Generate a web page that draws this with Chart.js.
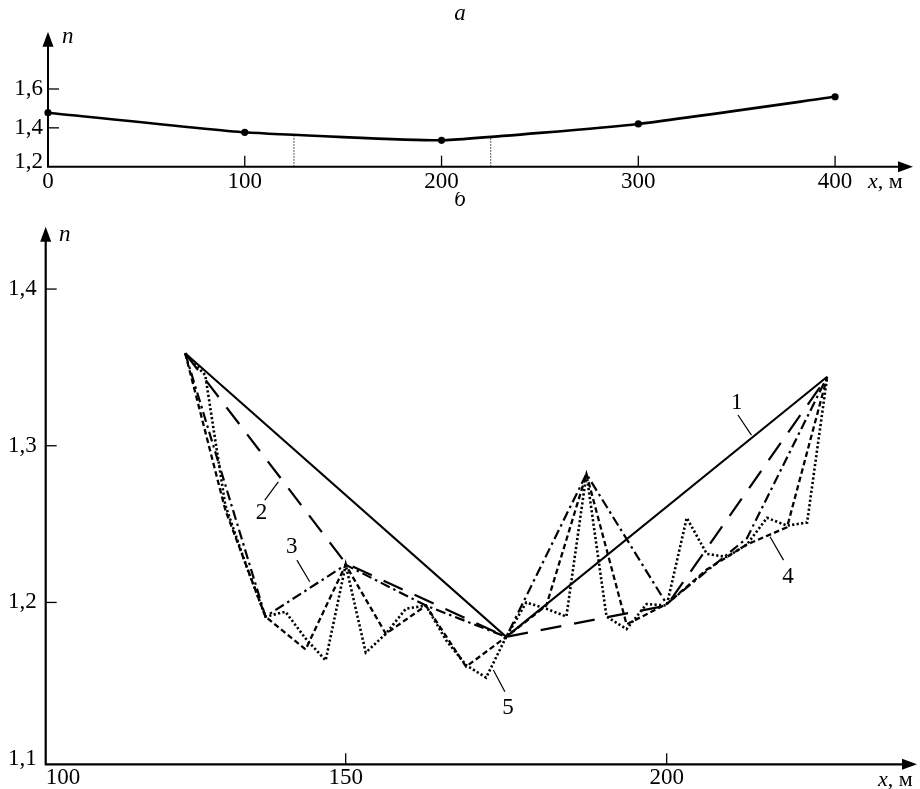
<!DOCTYPE html>
<html>
<head>
<meta charset="utf-8">
<script src="https://cdn.jsdelivr.net/npm/chart.js@4.4.1/dist/chart.umd.min.js"></script>
<style>
  html, body { margin: 0; padding: 0; background: #fff; }
  #wrap { position: relative; width: 920px; height: 789px; }
  #boxA { position: absolute; left: 0; top: 0; width: 920px; height: 192px; }
  #boxB { position: absolute; left: 0; top: 192px; width: 920px; height: 597px; }
</style>
</head>
<body>
<div id="wrap">
  <div id="boxA"><canvas id="chartA"></canvas></div>
  <div id="boxB"><canvas id="chartB"></canvas></div>
</div>
<script>
// ---- panel а: n along the whole profile ----
const xA = [0, 100, 200, 300, 400];
const nA = [1.478, 1.377, 1.336, 1.420, 1.560];
// dotted verticals marking the 125..225 m window shown in panel б
const xMarkA = [125, 225];
const nMarkA = [1.363, 1.354];
const xTicksA = [0, 100, 200, 300, 400];
const yTicksA = [1.2, 1.4, 1.6];

// ---- panel б: successive approximations 1..5 on 125..225 m ----
const x1 = [125, 175, 225];
const n1 = [1.359, 1.178, 1.344];
const x2 = [125, 150, 175, 200, 225];
const n2 = [1.359, 1.225, 1.178, 1.198, 1.344];
const x3 = [125, 137.5, 150, 162.5, 175, 187.5, 200, 212.5, 225];
const n3 = [1.359, 1.191, 1.224, 1.198, 1.178, 1.282, 1.199, 1.241, 1.344];
const x4 = [125, 131.25, 137.5, 143.75, 150, 156.25, 162.5, 168.75, 175,
            181.25, 187.5, 193.75, 200, 206.25, 212.5, 218.75, 225];
const n4 = [1.359, 1.259, 1.191, 1.170, 1.224, 1.180, 1.198, 1.159, 1.178,
            1.198, 1.282, 1.186, 1.199, 1.221, 1.237, 1.248, 1.344];
const x5 = [125, 128.125, 131.25, 134.375, 137.5, 140.625, 143.75, 146.875,
            150, 153.125, 156.25, 159.375, 162.5, 165.625, 168.75, 171.875,
            175, 178.125, 181.25, 184.375, 187.5, 190.625, 193.75, 196.875,
            200, 203.125, 206.25, 209.375, 212.5, 215.625, 218.75, 221.875, 225];
const n5 = [1.359, 1.345, 1.262, 1.225, 1.191, 1.194, 1.177, 1.163,
            1.224, 1.168, 1.180, 1.196, 1.198, 1.176, 1.160, 1.152,
            1.178, 1.200, 1.196, 1.191, 1.282, 1.191, 1.183, 1.199,
            1.198, 1.254, 1.231, 1.229, 1.237, 1.254, 1.249, 1.251, 1.344];
const xTicksB = [100, 150, 200];
const yTicksB = [1.1, 1.2, 1.3, 1.4];
const curveLabels = ["1", "2", "3", "4", "5"];

const SERIF = '"Liberation Serif", "DejaVu Serif", serif';

const pts = (xs, ys) => xs.map((x, i) => ({ x: x, y: ys[i] }));
const fmt = v => v.toFixed(1).replace(".", ",");

function arrowHead(ctx, x, y, dir) {
  ctx.beginPath();
  if (dir === "up") {
    ctx.moveTo(x, y); ctx.lineTo(x - 5.5, y + 15); ctx.lineTo(x + 5.5, y + 15);
  } else {
    ctx.moveTo(x, y); ctx.lineTo(x - 15, y - 5.5); ctx.lineTo(x - 15, y + 5.5);
  }
  ctx.closePath();
  ctx.fill();
}

function axesPlugin(o) {
  return {
    id: "axes_" + o.name,
    afterDraw(chart) {
      const { ctx, chartArea: { left, right, top, bottom }, scales: { x, y } } = chart;
      ctx.save();
      ctx.strokeStyle = "#000";
      ctx.fillStyle = "#000";
      ctx.lineWidth = o.axisWidth;
      ctx.beginPath();
      ctx.moveTo(left, bottom); ctx.lineTo(left, top + 10);
      ctx.moveTo(left - 1, bottom); ctx.lineTo(right - 10, bottom);
      ctx.stroke();
      arrowHead(ctx, left, top, "up");
      arrowHead(ctx, right, bottom, "right");

      ctx.font = "23px " + SERIF;
      ctx.lineWidth = 1.3;
      // x ticks
      o.xTicks.forEach(v => {
        let px = x.getPixelForValue(v);
        if (px > left + 4) {
          ctx.beginPath(); ctx.moveTo(px, bottom); ctx.lineTo(px, bottom - 11); ctx.stroke();
        }
        ctx.textBaseline = "middle";
        if (px < left) { ctx.textAlign = "left"; px = left; } else { ctx.textAlign = "center"; }
        ctx.fillText(String(v), px, bottom + o.xLabelDy);
      });
      // y ticks
      o.yTicks.forEach((v, i) => {
        const py = y.getPixelForValue(v);
        if (bottom - py > 6) {
          ctx.beginPath(); ctx.moveTo(left, py); ctx.lineTo(left + 11, py); ctx.stroke();
        }
        ctx.textAlign = "right";
        ctx.textBaseline = "middle";
        ctx.fillText(fmt(v), left - o.yLabelDx, py + (o.yLabelShift[i] || 0));
      });
      // axis names
      ctx.textAlign = "left";
      ctx.font = "italic 23px " + SERIF;
      ctx.fillText("n", o.nPos[0], o.nPos[1]);
      ctx.font = "italic 22px " + SERIF;
      ctx.fillText("x", o.xPos[0], o.xPos[1]);
      const w = ctx.measureText("x").width;
      ctx.font = "22px " + SERIF;
      ctx.fillText(", м", o.xPos[0] + w, o.xPos[1]);
      // panel letter
      ctx.textAlign = "center";
      ctx.font = "italic 23px " + SERIF;
      ctx.fillText(o.letter, o.letterPos[0], o.letterPos[1]);

      // numbered callouts with leader lines
      if (o.callouts) {
        ctx.lineWidth = 1.2;
        ctx.font = "23px " + SERIF;
        o.callouts.forEach((c, i) => {
          ctx.beginPath();
          ctx.moveTo(x.getPixelForValue(c.from[0]), y.getPixelForValue(c.from[1]));
          ctx.lineTo(x.getPixelForValue(c.to[0]), y.getPixelForValue(c.to[1]));
          ctx.stroke();
          ctx.fillText(curveLabels[i], x.getPixelForValue(c.at[0]), y.getPixelForValue(c.at[1]));
        });
      }
      ctx.restore();
    }
  };
}

const hidden = (min, max) => ({ type: "linear", display: false, min: min, max: max });

new Chart(document.getElementById("chartA"), {
  type: "line",
  data: {
    datasets: [
      {
        data: pts(xA, nA),
        borderColor: "#000", borderWidth: 2.6,
        pointRadius: 3.6, pointBackgroundColor: "#000", pointBorderWidth: 0,
        tension: 0.12, clip: false
      },
      ...xMarkA.map((v, i) => ({
        data: [{ x: v, y: 1.2 }, { x: v, y: nMarkA[i] }],
        borderColor: "#222", borderWidth: 1, borderDash: [1.5, 1.5],
        pointRadius: 0, clip: false
      }))
    ]
  },
  options: {
    responsive: true, maintainAspectRatio: false, animation: false,
    layout: { padding: { left: 48, right: 7, top: 31.7, bottom: 25.3 } },
    plugins: { legend: { display: false }, tooltip: { enabled: false } },
    scales: { x: hidden(0, 439.6), y: hidden(1.2, 1.895) }
  },
  plugins: [axesPlugin({
    name: "a", axisWidth: 2, xTicks: xTicksA, yTicks: yTicksA,
    xLabelDy: 15, yLabelDx: 5, yLabelShift: [-5, 0, 0],
    nPos: [62, 37], xPos: [868, 182], letter: "а", letterPos: [460, 14]
  })]
});

new Chart(document.getElementById("chartB"), {
  type: "line",
  data: {
    datasets: [
      { data: pts(x5, n5), borderDash: [2.2, 2.3], borderWidth: 2.6 },
      { data: pts(x4, n4), borderDash: [5.5, 3.2], borderWidth: 2.3 },
      { data: pts(x3, n3), borderDash: [10, 4, 2.5, 4], borderWidth: 2.2 },
      { data: pts(x2, n2), borderDash: [21, 13], borderWidth: 2.2 },
      { data: pts(x1, n1), borderDash: [], borderWidth: 2.1 }
    ].map(d => Object.assign(d, {
      borderColor: "#000", pointRadius: 0, tension: 0, clip: false
    }))
  },
  options: {
    responsive: true, maintainAspectRatio: false, animation: false,
    layout: { padding: { left: 45.7, right: 3, top: 34.7, bottom: 24.7 } },
    plugins: { legend: { display: false }, tooltip: { enabled: false } },
    scales: { x: hidden(103.27, 238.99), y: hidden(1.0967, 1.4398) }
  },
  plugins: [axesPlugin({
    name: "b", axisWidth: 2.2, xTicks: xTicksB, yTicks: yTicksB,
    xLabelDy: 14, yLabelDx: 9, yLabelShift: [0, 0, 0, 0],
    nPos: [59, 42.5], xPos: [878, 588], letter: "б", letterPos: [460, 8],
    callouts: [
      { at: [210.9, 1.327], from: [211.1, 1.3196], to: [213.2, 1.3068] },
      { at: [136.9, 1.2569], from: [137.4, 1.2653], to: [139.5, 1.277] },
      { at: [141.6, 1.2355], from: [142.4, 1.227], to: [144.4, 1.2132] },
      { at: [218.9, 1.2164], from: [218.2, 1.227], to: [216.1, 1.2419] },
      { at: [175.3, 1.1324], from: [174.8, 1.143], to: [173.0, 1.1569] }
    ]
  })]
});
</script>
</body>
</html>
